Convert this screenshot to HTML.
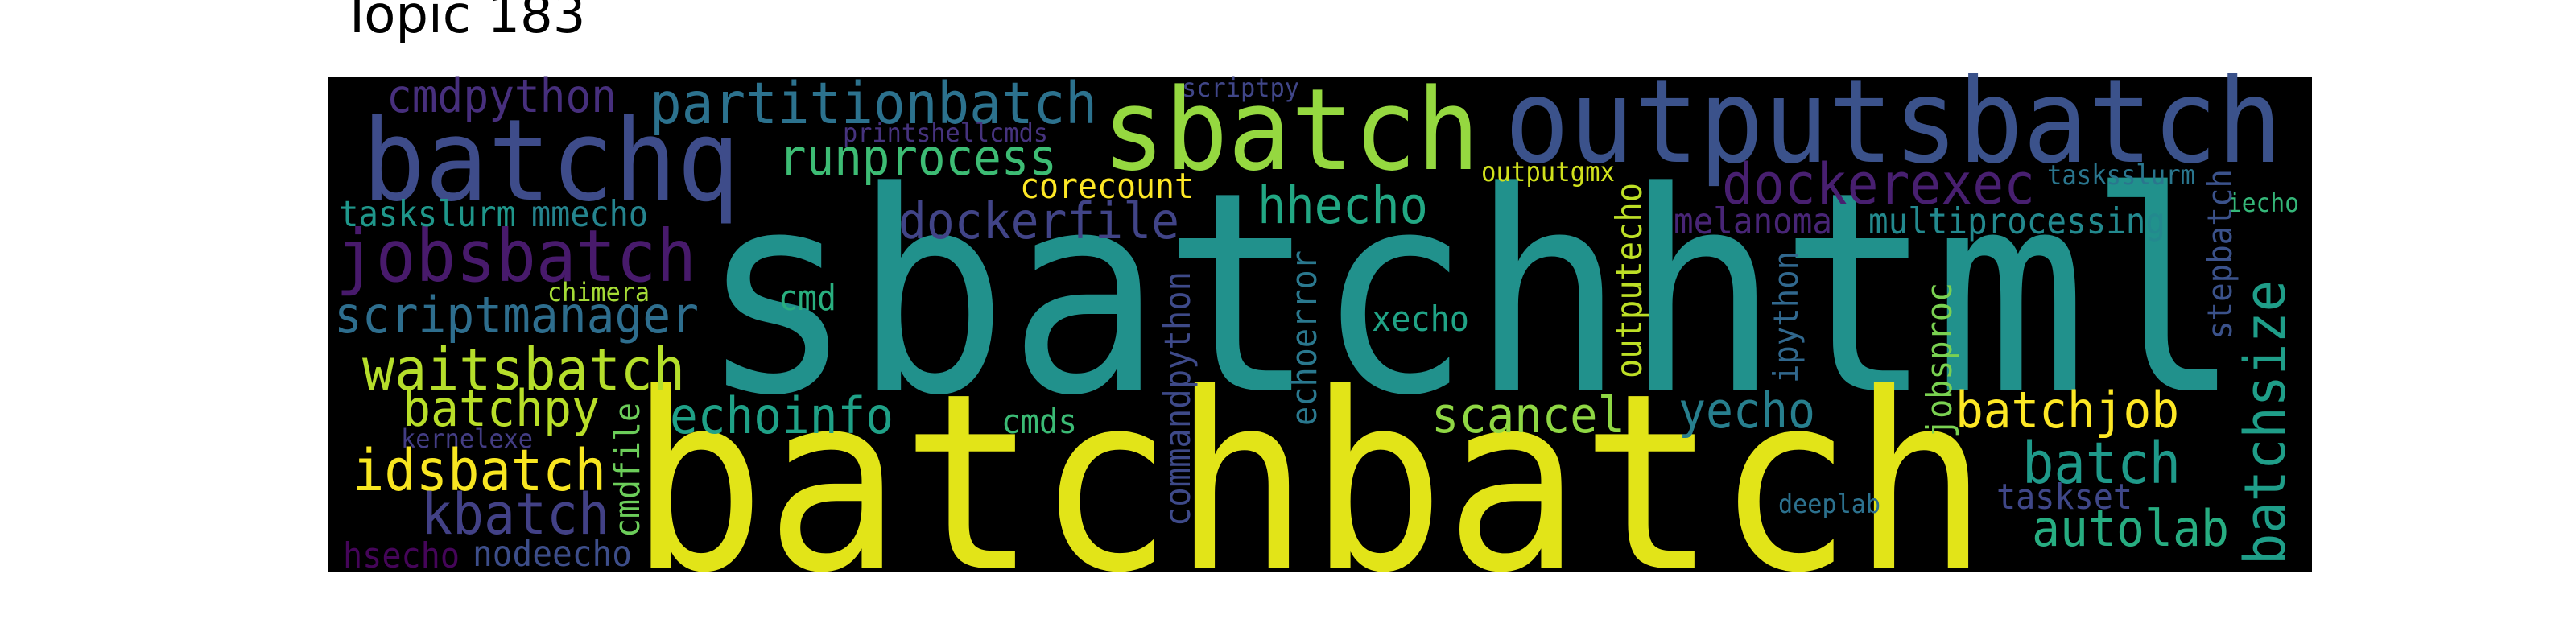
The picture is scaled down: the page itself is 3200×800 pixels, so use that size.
<!DOCTYPE html>
<html><head><meta charset="utf-8">
<style>
html,body{margin:0;padding:0;background:#fff;}
#wrap{width:3200px;height:800px;position:relative;overflow:hidden;}
svg{display:block;}
</style></head>
<body>
<div id="wrap">
<svg id="chart" width="3200" height="800" viewBox="0 0 3200 800">
  <text x="424" y="40" font-family="DejaVu Sans, Liberation Sans, sans-serif" font-size="64" fill="#000">Topic 183</text>
  <rect x="408" y="96" width="2464" height="614" fill="#000"/>
  <g id="words"></g>
</svg>
</div>
<script>
const words = ["sbatchhtml","batchbatch","batchq","outputsbatch","sbatch","partitionbatch","cmdpython","runprocess","printshellcmds","scriptpy","corecount","outputgmx","dockerexec","tasksslurm","jobsbatch","taskslurm","mmecho","dockerfile","hhecho","melanoma","multiprocessing","iecho","chimera","scriptmanager","cmd","xecho","waitsbatch","batchpy","echoinfo","scancel","yecho","batchjob","kernelexe","idsbatch","cmds","batch","kbatch","taskset","deeplab","autolab","hsecho","nodeecho","cmdfile","commandpython","echoerror","outputecho","stepbatch","ipython","jobsproc","batchsize"];
const sizes = [320,282,130,134,130,66,53,58,30,30,40,31,65,31,83,41,41,58,59,41,41,30,30,58,40,40,67,58,58,57,57,58,30,66,39,66,65,40,30,58,40,41,40,41,40,41,39,39,40,65];
const colors = ["#21918c","#e2e418","#3e4c8a","#3b528b","#95d840","#2c728e","#472f7d","#3dbc74","#46337e","#404688","#fde725","#d0e11c","#481f70","#2a768e","#481a6c","#1f978b","#25848e","#414487","#22a884","#482576","#23898e","#35b779","#a5db36","#2e6e8e","#29af7f","#20a386","#b5de2b","#b8de29","#1fa187","#8fd744","#277f8e","#fde725","#433d84","#f8e621","#3bbb75","#1f9a8a","#424186","#3f4788","#2c718e","#27ad81","#450559","#3d4e8a","#6ccd5a","#3e4a89","#2a788e","#bddf26","#3b528b","#31688e","#7ad151","#1f9e89"];
const posX = [869,782,450,1869,1369,807,480,967,1047,1468,1267,1840,2139,2543,417,421,660,1116,1562,2079,2321,2767,680,415,967,1704,450,500,832,1778,2085,2429,498,438,1244,2512,523,2480,2209,2524,426,587,794,1478,1635,2039,2772,2233,2424,2838];
const posY = [485,706,248,201,210,153,139,217,176,120,246,225,253,229,349,281,281,296,277,290,290,263,374,413,385,411,484,529,538,537,531,531,556,609,538,600,663,632,637,678,705,703,668,654,529,470,422,476,544,702];
const vertical = [0,0,0,0,0,0,0,0,0,0,0,0,0,0,0,0,0,0,0,0,0,0,0,0,0,0,0,0,0,0,0,0,0,0,0,0,0,0,0,0,0,0,1,1,1,1,1,1,1,1];
const lengths = [1916,1688,469,966,469,556,286,346,255,146,216,166,389,184,448,220,145,349,212,197,369,89,127,453,72,121,401,245,278,241,170,278,164,315,94,197,234,169,127,245,145,198,168,317,218,243,212,164,193,354];
const g = document.getElementById('words');
const NS = 'http://www.w3.org/2000/svg';
for (let i = 0; i < words.length; i++) {
  const t = document.createElementNS(NS, 'text');
  t.textContent = words[i];
  t.setAttribute('font-family', 'DejaVu Sans Mono, Liberation Mono, monospace');
  t.setAttribute('font-size', (sizes[i] * 1.08).toFixed(1));
  t.setAttribute('fill', colors[i]);
  t.setAttribute('textLength', lengths[i]);
  t.setAttribute('lengthAdjust', 'spacingAndGlyphs');
  if (vertical[i]) {
    t.setAttribute('transform', 'translate(' + posX[i] + ',' + posY[i] + ') rotate(-90)');
    t.setAttribute('x', 0);
    t.setAttribute('y', 0);
  } else {
    t.setAttribute('x', posX[i]);
    t.setAttribute('y', posY[i]);
  }
  
  
  g.appendChild(t);
}
</script>
</body></html>
